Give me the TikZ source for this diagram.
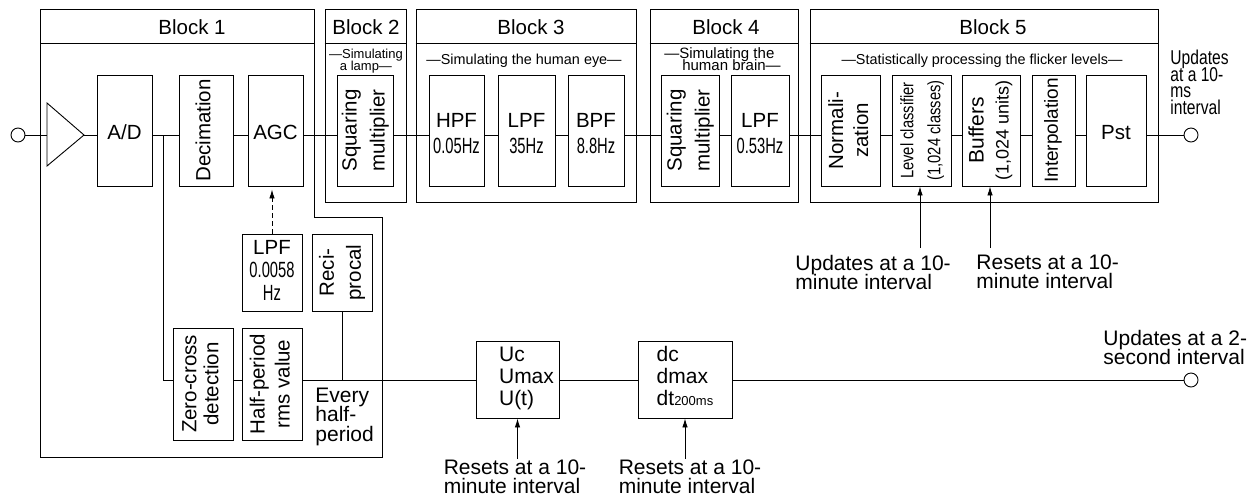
\documentclass[tikz,border=0pt]{standalone}
\usepackage{fontspec}
\setmainfont{Liberation Sans}
\usepackage{graphicx}
\usetikzlibrary{arrows.meta,calc,positioning}

\newcommand{\tight}{\lineskiplimit=-100pt\relax}
\newcommand{\vlab}[1]{\rotatebox{90}{\begin{tabular}{@{}c@{}}#1\end{tabular}}}
\newcommand{\hlab}[1]{\raisebox{-4.5pt}[\height][\depth]{\begin{tabular}{@{}c@{}}#1\end{tabular}}}
\newcommand{\llab}[2][0pt]{\begin{tabular}{@{\hspace{#1}}l@{}}#2\end{tabular}}
\newcommand{\cond}[2][0.67]{\scalebox{#1}[1]{#2}}
\newcommand{\hz}[1]{{\fontsize{22}{22}\selectfont\cond{#1}}}

\tikzset{
  frame/.style={draw, inner sep=0pt, minimum height=193pt},
  unit/.style={draw, inner sep=0pt, minimum height=111pt},
  cell/.style={draw, inner sep=0pt, minimum height=77pt},
  tall/.style={draw, inner sep=0pt, minimum height=112pt},
  title/.style={inner sep=0pt},
  sub/.style={inner sep=0pt, font=\fontsize{14.4}{12}\selectfont\tight},
  note/.style={inner sep=0pt, align=left, font=\fontsize{21}{19}\selectfont\tight},
  port/.style={draw, circle, inner sep=0pt, minimum size=14pt},
  feed/.style={-{Latex[length=9pt,width=5.5pt]}},
}

\begin{document}
\begin{tikzpicture}[x=1pt, y=-1pt, line width=0.9pt, font=\fontsize{20.5}{22}\selectfont]
\useasboundingbox (0,0) rectangle (1260,499);

\coordinate (hd) at (0,43);
\coordinate (lo) at (0,380);

% block frames
\draw (40,9) -- (314,9) -- (314,217) -- (382,217) -- (382,457) -- (40,457) -- cycle;
\draw (40,43) -- (314,43);
\node[frame, minimum width=81pt] (blk2) at (365.5,105.5) {};
\draw (blk2.west |- hd) -- (blk2.east |- hd);
\node[frame, minimum width=220pt] (blk3) at (526,105.5) {};
\draw (blk3.west |- hd) -- (blk3.east |- hd);
\node[frame, minimum width=148pt] (blk4) at (724,105.5) {};
\draw (blk4.west |- hd) -- (blk4.east |- hd);
\node[frame, minimum width=348pt] (blk5) at (984,105.5) {};
\draw (blk5.west |- hd) -- (blk5.east |- hd);

\node[title] (t1) at (192,27) {Block 1};
\node[title] (t2) at (366,27) {Block 2};
\node[title] (t3) at (531,27) {Block 3};
\node[title] (t4) at (726,27) {Block 4};
\node[title] (t5) at (993,27) {Block 5};

\node[sub, align=center, font=\fontsize{13}{12}\selectfont\tight] (s2) at (366,61) {---Simulating\\a lamp---};
\node[sub] (s3) at (524,61) {---Simulating the human eye---};
\node[sub, align=left, font=\fontsize{15}{12}\selectfont\tight] (s4) at (722.5,59) {---Simulating the\\\hspace*{18pt}human brain---};
\node[sub] (s5) at (982,61) {---Statistically processing the flicker levels---};

% signal chain
\node[port] (in) at (18,135) {};
\coordinate (amp1) at (47,103);
\coordinate (amp2) at (47,166);
\coordinate (amp-out) at (84,135);
\draw (amp1) -- (amp-out) -- (amp2) -- cycle;

\node[unit, minimum width=55pt] (ad) at (124.5,130.5) {\hlab{A/D}};
\node[unit, minimum width=54pt] (dec) at (206,130.5) {\vlab{Decimation}};
\node[unit, minimum width=55pt] (agc) at (275.5,130.5) {\hlab{AGC}};
\node[unit, minimum width=56pt, font=\fontsize{20.5}{28}\selectfont] (sq1) at (365,130.5) {\vlab{Squaring\\multiplier}};
\node[unit, minimum width=55pt, font=\fontsize{20.5}{26}\selectfont] (hpf) at (456.5,130.5) {\hlab{HPF\\\hz{0.05Hz}}};
\node[unit, minimum width=57pt, font=\fontsize{20.5}{26}\selectfont] (lpf1) at (526.5,130.5) {\hlab{LPF\\\hz{35Hz}}};
\node[unit, minimum width=56pt, font=\fontsize{20.5}{26}\selectfont] (bpf) at (596,130.5) {\hlab{BPF\\\hz{8.8Hz}}};
\node[unit, minimum width=58pt, font=\fontsize{20.5}{28}\selectfont] (sq2) at (690,130.5) {\vlab{Squaring\\multiplier}};
\node[unit, minimum width=58pt, font=\fontsize{20.5}{26}\selectfont] (lpf2) at (760,130.5) {\hlab{LPF\\\hz{0.53Hz}}};
\node[unit, minimum width=59pt, font=\fontsize{20.5}{25}\selectfont] (norm) at (850.5,130.5) {\vlab{Normali-\\zation}};
\node[unit, minimum width=59pt, font=\fontsize{18}{27}\selectfont] (lvl) at (921.5,130.5) {\vlab{\cond[0.82]{Level classifier}\\\cond[0.82]{(1,024 classes)}}};
\node[unit, minimum width=58pt, font=\fontsize{21}{25}\selectfont] (buf) at (991,130.5) {\vlab{Buffers\\{\fontsize{18}{18}\selectfont(1,024 units)}}};
\node[unit, minimum width=43pt, font=\fontsize{19}{22}\selectfont] (intp) at (1053.5,130.5) {\vlab{Interpolation}};
\node[unit, minimum width=60pt] (pst) at (1116,130.5) {\hlab{Pst}};
\node[port] (out1) at (1191,135) {};

\draw (in.east) -- (amp1 |- in);
\draw (amp-out) -- (ad.west |- in);
\draw (ad.east |- in) -- (dec.west |- in);
\draw (dec.east |- in) -- (agc.west |- in);
\draw (agc.east |- in) -- (sq1.west |- in);
\draw (sq1.east |- in) -- (hpf.west |- in);
\draw (hpf.east |- in) -- (lpf1.west |- in);
\draw (lpf1.east |- in) -- (bpf.west |- in);
\draw (bpf.east |- in) -- (sq2.west |- in);
\draw (sq2.east |- in) -- (lpf2.west |- in);
\draw (lpf2.east |- in) -- (norm.west |- in);
\draw (norm.east |- in) -- (lvl.west |- in);
\draw (lvl.east |- in) -- (buf.west |- in);
\draw (buf.east |- in) -- (intp.west |- in);
\draw (intp.east |- in) -- (pst.west |- in);
\draw (pst.east |- in) -- (out1.west);

% lower chain
\node[cell, minimum width=60pt, font=\fontsize{20.5}{23}\selectfont] (lpf3) at (272,272.5) {\begin{tabular}{@{}c@{}}LPF\\\hz{0.0058}\\\hz{Hz}\end{tabular}};
\node[cell, minimum width=60pt, font=\fontsize{20.5}{27}\selectfont] (rec) at (342,272.5) {\vlab{Reci-\\procal}};
\node[tall, minimum width=60pt, font=\fontsize{20.5}{22}\selectfont] (zc) at (203,384) {\vlab{Zero-cross\\detection}};
\node[tall, minimum width=60pt, font=\fontsize{20.5}{25}\selectfont] (hp) at (272,384) {\vlab{Half-period\\rms value}};
\node[cell, minimum width=83pt, font=\fontsize{21}{22}\selectfont] (uc) at (517.5,379.5) {\llab[18pt]{Uc\\Umax\\U(t)}};
\node[cell, minimum width=94pt, font=\fontsize{21}{22}\selectfont] (dc) at (685,379.5) {\llab{dc\\dmax\\dt{\fontsize{13}{13}\selectfont 200ms}}};
\node[port] (out2) at (1191,380) {};

\coordinate (br) at (163,135);
\draw (br) |- (zc.west |- lo);
\draw (zc.east |- lo) -- (hp.west |- lo);
\draw (hp.east |- lo) -- (uc.west |- lo);
\draw (rec.south) -- (rec.south |- lo);
\draw (uc.east |- lo) -- (dc.west |- lo);
\draw (dc.east |- lo) -- (out2.west);
\draw[feed, dash pattern=on 5pt off 3pt, shorten >=3pt] (lpf3.north) -- (lpf3.north |- agc.south);

%labels
\node[note, anchor=north west, font=\fontsize{21}{19.5}\selectfont\tight] (ehp) at (315,387.5) {Every\\half-\\period};
\node[inner sep=0pt, align=left, anchor=north west, font=\fontsize{20}{16.5}\selectfont\tight] (upd1) at (1170,50) {\cond[0.78]{Updates}\\\cond[0.78]{at a 10-}\\\cond[0.78]{ms}\\\cond[0.78]{interval}};
\node[note, anchor=north west] (upd2) at (795,254.5) {Updates at a 10-\\minute interval};
\node[note, anchor=north west] (rst3) at (976,254.5) {Resets at a 10-\\minute interval};
\node[note, anchor=north west] (upd3) at (1103,329.5) {Updates at a 2-\\second interval};
\node[note, anchor=north] (rst1) at (515,459) {Resets at a 10-\\minute interval};
\node[note, anchor=north] (rst2) at (690,459) {Resets at a 10-\\minute interval};

\coordinate (lvl-up) at (920,248);
\coordinate (buf-up) at (990,248);
\draw[feed] (lvl-up) -- (lvl-up |- lvl.south);
\draw[feed] (buf-up) -- (buf-up |- buf.south);
\draw[feed] (uc.south |- rst1.north) -- (uc.south);
\draw[feed] (dc.south |- rst2.north) -- (dc.south);

\end{tikzpicture}
\end{document}
